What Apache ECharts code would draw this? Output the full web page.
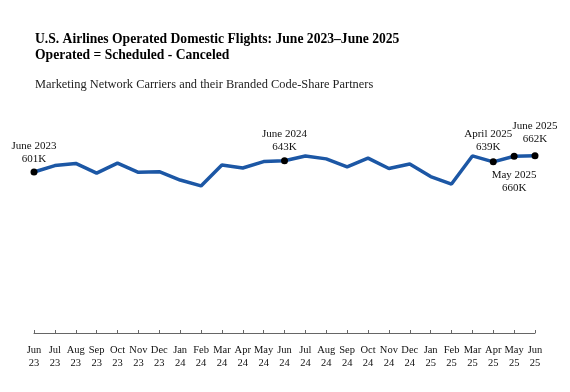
<!DOCTYPE html>
<html>
<head>
<meta charset="utf-8">
<script src="https://cdn.jsdelivr.net/npm/echarts@6/dist/echarts.min.js"></script>
<style>html,body{margin:0;padding:0;background:#fff}#c{width:570px;height:392px}</style>
</head>
<body>
<div id="c"></div>
<script>
var months = ['Jun\n23','Jul\n23','Aug\n23','Sep\n23','Oct\n23','Nov\n23','Dec\n23','Jan\n24','Feb\n24','Mar\n24','Apr\n24','May\n24','Jun\n24','Jul\n24','Aug\n24','Sep\n24','Oct\n24','Nov\n24','Dec\n24','Jan\n25','Feb\n25','Mar\n25','Apr\n25','May\n25','Jun\n25'];
var flightsK = [601,625,633,597,634,600,602,571,549,627,616,640,643,661,650,620,653,614,631,584,556,661,639,660,662];
var annotIndex = [0,12,22,23,24];
var annotText = ['June 2023\n601K','June 2024\n643K','April 2025\n639K','May 2025\n660K','June 2025\n662K'];
var annotBelow = [false,false,false,true,false];
var annotDist = [2.5,3.5,4.5,9,7];
var annotShift = [0,0,-5,0,0];

var serif = '"Liberation Serif","Times New Roman",serif';
var data = flightsK.map(function(v,i){
  var k = annotIndex.indexOf(i);
  if (k < 0) return {value:v, symbol:'none'};
  return {
    value:v, symbol:'circle', symbolSize:7,
    itemStyle:{color:'#000'},
    label:{show:true, formatter:annotText[k], position: annotBelow[k]?'bottom':'top',
      distance: annotDist[k], offset:[annotShift[k],0], fontFamily:serif, fontSize:11, color:'#111', lineHeight:13, align:'center'}
  };
});

var chart = echarts.init(document.getElementById('c'));
chart.setOption({
  animation:false,
  title:[
    {text:'U.S. Airlines Operated Domestic Flights: June 2023\u2013June 2025\nOperated = Scheduled - Canceled', left:35, top:31, padding:0,
     textStyle:{fontFamily:serif, fontSize:13.6, fontWeight:'bold', color:'#000', lineHeight:16}},
    {text:'Marketing Network Carriers and their Branded Code-Share Partners', left:35, top:79, padding:0,
     textStyle:{fontFamily:serif, fontSize:12.4, fontWeight:'normal', color:'#222'}}
  ],
  grid:{left:34, right:35, top:118.7, bottom:59},
  xAxis:{type:'category', data:months, boundaryGap:false,
    axisLine:{lineStyle:{color:'#666', width:1}},
    axisTick:{inside:true, length:3, lineStyle:{color:'#666'}},
    axisLabel:{fontFamily:serif, fontSize:10.5, color:'#111', lineHeight:13, margin:11, interval:0}
  },
  yAxis:{type:'value', min:0, max:800, show:false, splitLine:{show:false}},
  series:[{type:'line', data:data, lineStyle:{color:'#1c57a5', width:3.5}, itemStyle:{color:'#1c57a5'}, z:3}]
});
</script>
</body>
</html>
